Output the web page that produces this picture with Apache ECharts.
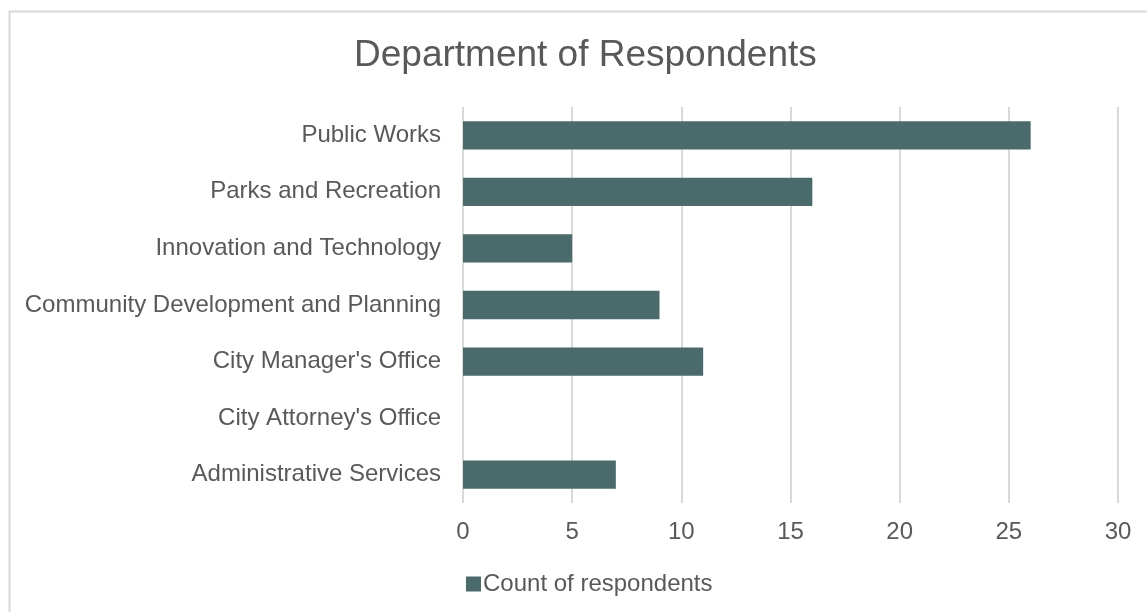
<!DOCTYPE html>
<html><head><meta charset="utf-8">
<script src="https://cdn.jsdelivr.net/npm/echarts@6/dist/echarts.min.js"></script>
<style>html,body{margin:0;padding:0;background:#fff}#c{width:1147px;height:612px}</style>
</head><body><div id="c"></div>
<script>
const categories = ["Administrative Services","City Attorney's Office","City Manager's Office","Community Development and Planning","Innovation and Technology","Parks and Recreation","Public Works"];
const counts = [7, 0, 11, 9, 5, 16, 26];
const seriesName = "Count of respondents";
const titleText = "Department of Respondents";

const chart = echarts.init(document.getElementById('c'), null, {renderer:'canvas'});
const font = "'Liberation Sans', Arial, sans-serif";
chart.setOption({
  animation:false,
  backgroundColor:'#fff',
  textStyle:{fontFamily:font},
  graphic:[{type:'rect',shape:{x:9.5,y:11.5,width:1160,height:640},style:{fill:'none',stroke:'#d9d9d9',lineWidth:2},silent:true,z:-1}],
  title:{text:titleText,left:349,top:32,textStyle:{fontFamily:font,fontSize:37,fontWeight:'normal',color:'#595959'}},
  legend:{top:567,left:461,itemWidth:15,itemHeight:15,itemGap:4,icon:'rect',
    textStyle:{fontFamily:font,fontSize:24,color:'#595959',padding:[0,0,0,-3]},data:[seriesName]},
  grid:{left:463,right:29,top:107,bottom:109,containLabel:false},
  xAxis:{type:'value',min:0,max:30,interval:5,
    axisLine:{show:false},axisTick:{show:false},
    axisLabel:{fontFamily:font,fontSize:24,color:'#595959',margin:17},
    splitLine:{lineStyle:{color:'#d9d9d9',width:2}}},
  yAxis:{type:'category',data:categories,
    axisLine:{show:false},axisTick:{show:false},
    axisLabel:{fontFamily:font,fontSize:24,color:'#595959',margin:22}},
  series:[{name:seriesName,type:'bar',data:counts,barCategoryGap:'50%',
    itemStyle:{color:'#4a6a6c'}}]
});
</script></body></html>
